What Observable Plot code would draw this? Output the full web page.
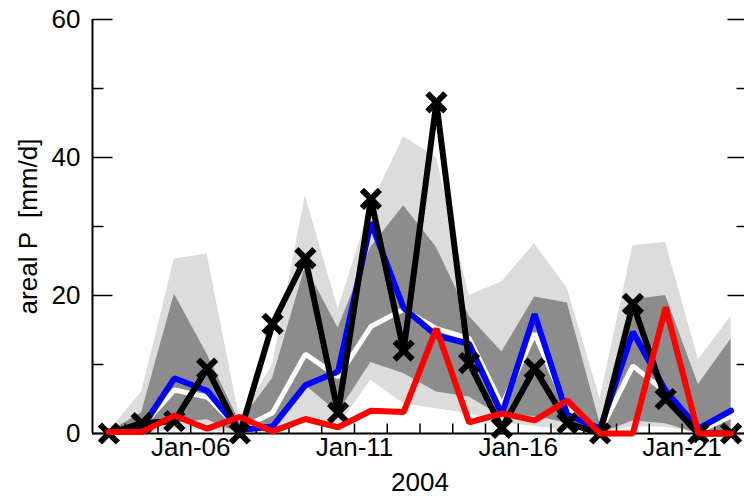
<!DOCTYPE html>
<html><head><meta charset="utf-8">
<script src="https://cdn.jsdelivr.net/npm/d3@7"></script>
<script src="https://cdn.jsdelivr.net/npm/@observablehq/plot@0.6"></script>
<style>html,body{margin:0;padding:0;background:#fff;overflow:hidden}</style>
</head><body><div id="chart"></div>
<script>
// daily values, 2004-01-03 .. 2004-01-22 (plotted at noon)
const days = ["2004-01-03","2004-01-04","2004-01-05","2004-01-06","2004-01-07","2004-01-08","2004-01-09","2004-01-10","2004-01-11","2004-01-12",
              "2004-01-13","2004-01-14","2004-01-15","2004-01-16","2004-01-17","2004-01-18","2004-01-19","2004-01-20","2004-01-21","2004-01-22"];
const obs     = [0, 1.5, 1.8, 9.4, 0, 15.9, 25.4, 3.0, 34.0, 12.0, 48.0, 10.2, 0.8, 9.4, 1.5, 0, 18.8, 5.0, 0, 0];
const blue    = [0.3, 0.8, 8.0, 6.2, 0.5, 1.0, 7.0, 9.0, 30.6, 18.2, 14.2, 13.0, 2.8, 17.3, 2.7, 0.7, 14.7, 6.2, 0.7, 3.3];
const median  = [0.2, 1.0, 6.3, 5.3, 0.6, 3.0, 11.5, 8.2, 15.5, 18.0, 15.2, 13.8, 4.1, 14.5, 3.5, 0.3, 9.8, 6.0, 0.3, 2.5];
const red     = [0.2, 0.2, 2.6, 0.7, 2.4, 0.3, 2.1, 0.9, 3.3, 3.1, 15.2, 1.6, 2.9, 1.9, 4.8, 0, 0, 18.3, 0, 0];
const lightHi = [0.3, 6.0, 25.3, 26.0, 2.0, 10.0, 34.5, 18.0, 33.0, 43.0, 40.0, 20.0, 22.0, 27.5, 21.0, 5.0, 27.2, 27.7, 10.7, 17.0];
const darkHi  = [0.2, 3.0, 20.2, 11.5, 1.6, 8.0, 24.2, 15.3, 27.0, 33.0, 27.0, 17.0, 11.8, 19.8, 18.9, 1.4, 19.4, 20.0, 7.1, 13.7];
const darkLo  = [0, 0.3, 1.5, 2.0, 0, 0.5, 7.0, 3.0, 10.3, 8.7, 6.0, 5.3, 2.5, 2.5, 1.5, 0, 1.8, 1.4, 0, 0.3];
const lightLo = [0, 0, 0.5, 0.5, 0, 0, 2.5, 1.0, 7.7, 4.3, 3.6, 2.9, 1.5, 1.0, 0.5, 0, 1.0, 0.9, 0, 0];

// axis definitions
const xDomain = ["2004-01-03", "2004-01-23"];
const dayTickDays = ["2004-01-04","2004-01-05","2004-01-06","2004-01-07","2004-01-08","2004-01-09","2004-01-10","2004-01-11","2004-01-12","2004-01-13",
                     "2004-01-14","2004-01-15","2004-01-16","2004-01-17","2004-01-18","2004-01-19","2004-01-20","2004-01-21","2004-01-22"];
const labelDays = ["2004-01-06","2004-01-11","2004-01-16","2004-01-21"];
const labelText = ["Jan-06","Jan-11","Jan-16","Jan-21"];
const yMajor = [0, 20, 40, 60];
const yMinor = [10, 30, 50];
const xTitle = "2004";
const yTitle = "areal P  [mm/d]";

const noon = s => new Date(s + "T12:00:00Z");
const midnight = s => new Date(s + "T00:00:00Z");
const rows = days.map((d, i) => ({date: noon(d), obs: obs[i], blue: blue[i], median: median[i], red: red[i],
  lightHi: lightHi[i], lightLo: lightLo[i], darkHi: darkHi[i], darkLo: darkLo[i]}));

const hline = len => ({draw(ctx) { ctx.moveTo(0, 0); ctx.lineTo(len, 0); }});
const vline = len => ({draw(ctx) { ctx.moveTo(0, 0); ctx.lineTo(0, -len); }});
const cross = {draw(ctx) { const h = 9; ctx.moveTo(-h, -h); ctx.lineTo(h, h); ctx.moveTo(-h, h); ctx.lineTo(h, -h); }};

const font = 26;
const plot = Plot.plot({
  width: 744, height: 504,
  marginLeft: 92, marginRight: -3, marginTop: 19, marginBottom: 71,
  style: {fontFamily: "'Liberation Sans', Arial, sans-serif", background: "white", overflow: "visible"},
  x: {type: "utc", domain: xDomain.map(midnight), axis: null},
  y: {domain: [0, 60], axis: null},
  marks: [
    Plot.areaY(rows, {x: "date", y1: "lightLo", y2: "lightHi", fill: "#dcdcdc"}),
    Plot.areaY(rows, {x: "date", y1: "darkLo", y2: "darkHi", fill: "#8c8c8c"}),
    // axes frame
    Plot.ruleY([0], {stroke: "black", strokeWidth: 2}),
    Plot.ruleX([midnight(xDomain[0])], {stroke: "black", strokeWidth: 2}),
    Plot.ruleX([midnight(xDomain[1])], {stroke: "black", strokeWidth: 2}),
    Plot.dot(yMajor, {y: d => d, frameAnchor: "left", symbol: hline(20), stroke: "black", fill: "none", strokeWidth: 1.5}),
    Plot.dot(yMinor, {y: d => d, frameAnchor: "left", symbol: hline(11), stroke: "black", fill: "none", strokeWidth: 1.5}),
    Plot.dot(yMajor, {y: d => d, frameAnchor: "right", symbol: hline(-20), stroke: "black", fill: "none", strokeWidth: 1.5}),
    Plot.dot(yMinor, {y: d => d, frameAnchor: "right", symbol: hline(-11), stroke: "black", fill: "none", strokeWidth: 1.5}),
    Plot.dot(dayTickDays.map(midnight), {x: d => d, frameAnchor: "bottom", symbol: vline(10), stroke: "black", fill: "none", strokeWidth: 1.5}),
    // series
    Plot.line(rows, {x: "date", y: "median", stroke: "white", strokeWidth: 5, strokeLinejoin: "miter"}),
    Plot.line(rows, {x: "date", y: "blue", stroke: "#0000ff", strokeWidth: 6, strokeLinejoin: "miter"}),
    Plot.line(rows, {x: "date", y: "obs", stroke: "black", strokeWidth: 6, strokeLinejoin: "miter"}),
    Plot.dot(rows, {x: "date", y: "obs", symbol: cross, stroke: "black", fill: "none", strokeWidth: 6}),
    Plot.line(rows, {x: "date", y: "red", stroke: "#ff0000", strokeWidth: 6, strokeLinejoin: "miter"}),
    // labels
    Plot.text(yMajor, {y: d => d, frameAnchor: "left", dx: -12, textAnchor: "end", text: d => String(d), fontSize: font, fill: "black"}),
    Plot.text(labelDays.map(midnight), {x: d => d, frameAnchor: "bottom", dy: 22, textAnchor: "middle", text: (d, i) => labelText[i], fontSize: font, fill: "black"}),
    Plot.text([xTitle], {frameAnchor: "bottom", dy: 57, textAnchor: "middle", text: d => d, fontSize: font, fill: "black"}),
    Plot.text([yTitle], {frameAnchor: "left", dx: -64, rotate: -90, textAnchor: "middle", text: d => d, fontSize: font, fill: "black"})
  ]
});
document.getElementById("chart").appendChild(plot);
</script>
</body></html>
